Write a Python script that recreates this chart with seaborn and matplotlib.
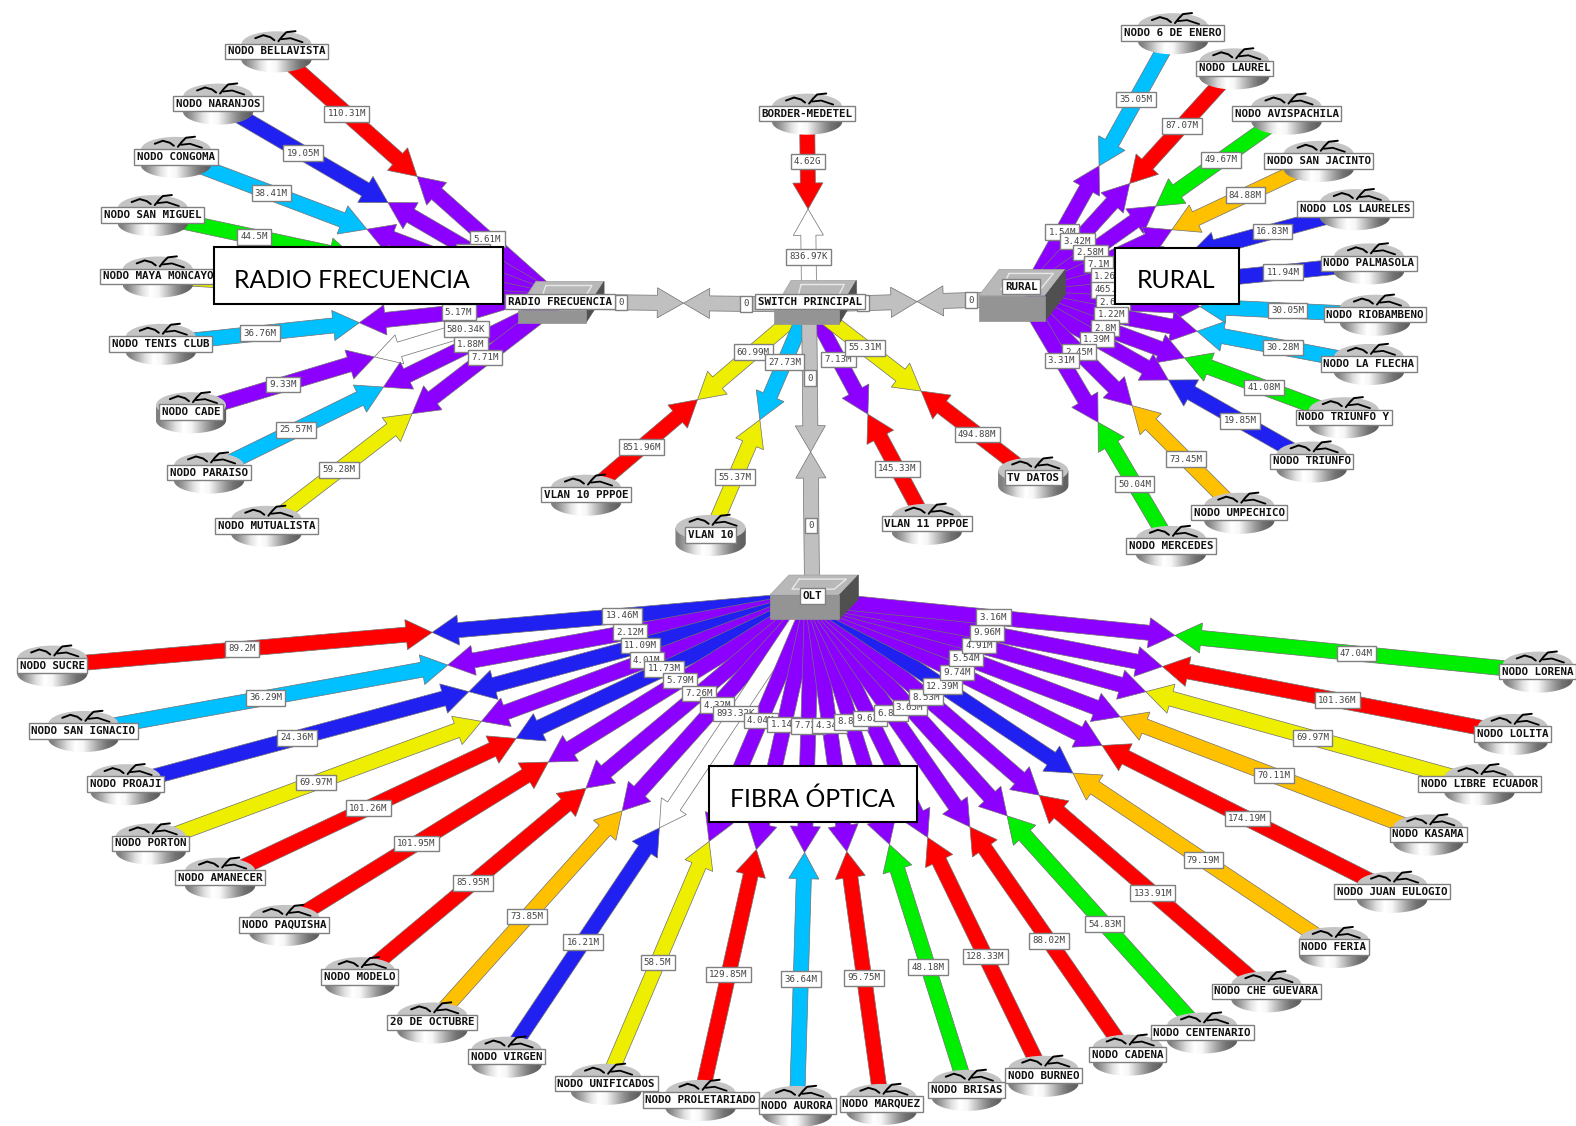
import numpy as np
import pandas as pd
import matplotlib
matplotlib.use("Agg")
import matplotlib.pyplot as plt
from matplotlib.patches import Polygon, PathPatch, Rectangle
from matplotlib.path import Path
from matplotlib.transforms import Affine2D
import seaborn as sns

sns.set_theme(style="white")

# Link load colours (weathermap scale)
colors = {
    "r": "#ff0000", "b": "#2020f0", "s": "#00c0ff", "g": "#00ee00", "o": "#ffc000",
    "y": "#eeee00", "p": "#8c00ff", "w": "#ffffff", "n": "#c0c0c0",
}

# Radio frecuencia group
radio_names = ["NODO BELLAVISTA", "NODO NARANJOS", "NODO CONGOMA", "NODO SAN MIGUEL", "NODO MAYA MONCAYO",
               "NODO TENIS CLUB", "NODO CADE", "NODO PARAISO", "NODO MUTUALISTA"]
radio_in = ["110.31M", "19.05M", "38.41M", "44.5M", "60.12M", "36.76M", "9.33M", "25.57M", "59.28M"]
radio_out = ["5.61M", "4.12M", "3.37M", "2.65M", "1.94M", "5.17M", "580.34K", "1.88M", "7.71M"]
radio_in_col = ["r", "b", "s", "g", "y", "s", "p", "s", "y"]
radio_out_col = ["p", "p", "p", "p", "p", "p", "w", "p", "p"]
radio_x = [275, 217, 175, 152, 157, 160, 190, 208, 265]
radio_y = [51, 103, 156, 214, 275, 342, 410, 470, 523]

# Rural group
rural_names = ["NODO 6 DE ENERO", "NODO LAUREL", "NODO AVISPACHILA", "NODO SAN JACINTO", "NODO LOS LAURELES",
               "NODO PALMASOLA", "NODO RIOBAMBENO", "NODO LA FLECHA", "NODO TRIUNFO Y", "NODO TRIUNFO",
               "NODO UMPECHICO", "NODO MERCEDES"]
rural_in = ["35.05M", "87.07M", "49.67M", "84.88M", "16.83M", "11.94M", "30.05M", "30.28M", "41.08M", "19.85M",
            "73.45M", "50.04M"]
rural_out = ["1.54M", "3.42M", "2.58M", "7.1M", "1.26M", "465.7K", "2.67M", "1.22M", "2.8M", "1.39M", "2.45M", "3.31M"]
rural_in_col = ["s", "r", "g", "o", "b", "b", "s", "s", "g", "b", "o", "g"]
rural_out_col = ["p"] * 12
rural_x = [1167, 1228, 1280, 1312, 1348, 1362, 1368, 1362, 1337, 1305, 1233, 1165]
rural_y = [33, 68, 113, 160, 208, 262, 313, 362, 415, 459, 510, 543]

# Core group
core_names = ["BORDER-MEDETEL", "VLAN 10 PPPOE", "VLAN 10", "VLAN 11 PPPOE", "TV DATOS"]
core_in = ["4.62G", "851.96M", "55.37M", "145.33M", "494.88M"]
core_out = ["836.97K", "60.99M", "27.73M", "7.13M", "55.31M"]
core_in_col = ["r", "r", "y", "r", "r"]
core_out_col = ["w", "y", "s", "p", "y"]
core_x = [803, 583, 707, 922, 1028]
core_y = [113, 492, 532, 521, 475]

# Fibra optica group
olt_names = ["NODO SUCRE", "NODO SAN IGNACIO", "NODO PROAJI", "NODO PORTON", "NODO AMANECER", "NODO PAQUISHA",
             "NODO MODELO", "20 DE OCTUBRE", "NODO VIRGEN", "NODO UNIFICADOS", "NODO PROLETARIADO", "NODO AURORA",
             "NODO MARQUEZ", "NODO BRISAS", "NODO BURNEO", "NODO CADENA", "NODO CENTENARIO", "NODO CHE GUEVARA",
             "NODO FERIA", "NODO JUAN EULOGIO", "NODO KASAMA", "NODO LIBRE ECUADOR", "NODO LOLITA", "NODO LORENA"]
olt_in = ["89.2M", "36.29M", "24.36M", "69.97M", "101.26M", "101.95M", "85.95M", "73.85M", "16.21M", "58.5M",
          "129.85M", "36.64M", "95.75M", "48.18M", "128.33M", "88.02M", "54.83M", "133.91M", "79.19M", "174.19M",
          "70.11M", "69.97M", "101.36M", "47.04M"]
olt_out = ["13.46M", "2.12M", "11.09M", "4.01M", "11.73M", "5.79M", "7.26M", "4.32M", "893.32K", "4.04M", "1.14M",
           "7.72M", "4.34M", "8.81M", "9.62M", "6.82M", "3.65M", "8.53M", "12.39M", "9.74M", "5.54M", "4.91M",
           "9.96M", "3.16M"]
olt_in_col = ["r", "s", "b", "y", "r", "r", "r", "o", "b", "y", "r", "s", "r", "g", "r", "r", "g", "r", "o", "r",
              "o", "y", "r", "g"]
olt_out_col = ["b", "p", "b", "p", "b", "p", "p", "p", "w", "p", "p", "p", "p", "p", "p", "p", "p", "p", "b", "p",
               "p", "p", "p", "p"]
olt_x = [52, 83, 125, 150, 219, 283, 358, 430, 504, 603, 697, 793, 877, 962, 1038, 1122, 1196, 1260, 1327, 1385,
         1421, 1472, 1505, 1530]
olt_y = [662, 727, 780, 839, 873, 920, 972, 1017, 1051, 1078, 1094, 1100, 1098, 1084, 1070, 1049, 1027, 986, 942,
         887, 830, 780, 730, 668]

# Arrow anchors of the switches
hub_radio = (555, 300)
hub_core = (805, 303)
hub_rural = (1020, 297)
hub_olt = (808, 596)

SHAFT = 15
HEAD_W = 30
HEAD_L = 26
ROUTER_W = 35


def half_arrow(ax, start, tip, col, lw=0.5):
    start, tip = np.array(start, float), np.array(tip, float)
    d = tip - start
    d = d / np.hypot(*d)
    n = np.array([-d[1], d[0]])
    neck = tip - d * HEAD_L
    pts = [start + n * SHAFT / 2, neck + n * SHAFT / 2, neck + n * HEAD_W / 2, tip,
           neck - n * HEAD_W / 2, neck - n * SHAFT / 2, start - n * SHAFT / 2]
    ax.add_patch(Polygon(pts, closed=True, fc=colors[col], ec="#707070", lw=lw, zorder=2))


def link_label(ax, x, y, txt):
    ax.text(x, y, txt, family="DejaVu Sans Mono", fontsize=6.6, color="#444444", ha="center", va="center", zorder=5,
            bbox=dict(boxstyle="square,pad=0.36", fc="white", ec="#808080", lw=1))


def link(ax, node, hub, col_in, col_out, lab_in, lab_out):
    mid = ((node[0] + hub[0]) / 2, (node[1] + hub[1]) / 2)
    half_arrow(ax, node, mid, col_in)
    half_arrow(ax, hub, mid, col_out)
    link_label(ax, (node[0] + mid[0]) / 2, (node[1] + mid[1]) / 2, lab_in)
    link_label(ax, (hub[0] + mid[0]) / 2, (hub[1] + mid[1]) / 2, lab_out)


def router_body(ax, cx, cy):
    w, top, bot = ROUTER_W, cy - 7, cy + 8
    t = np.linspace(0, np.pi, 40)
    xs = np.r_[cx - w, cx + w * np.cos(t[::-1]), cx + w]
    ys = np.r_[top, bot + 13 * np.sin(t[::-1]), top]
    clip = PathPatch(Path(np.c_[xs, ys]), fc="none", ec="none", transform=ax.transData)
    ax.add_patch(clip)
    grad = np.array([[0.5, 0.68, 0.88, 1, 0.96, 0.78, 0.6, 0.45, 0.38]])
    im = ax.imshow(grad, cmap="gray", vmin=0, vmax=1, extent=(cx - w, cx + w, bot + 15, top), aspect="auto",
                   interpolation="bilinear", zorder=3)
    im.set_clip_path(clip)


def router_marks(ax, cx, cy):
    ax.plot([cx - 21, cx - 13, cx - 6, cx - 2], [cy - 13, cy - 16, cy - 14, cy - 11], color="black", lw=1.4, zorder=4)
    ax.plot([cx + 2, cx + 6, cx + 10, cx + 19], [cy - 10, cy - 15, cy - 19, cy - 20], color="black", lw=1.4, zorder=4)
    ax.plot([cx + 5, cx + 14, cx + 26], [cy - 12, cy - 13, cy - 9], color="black", lw=1.3, zorder=4)


def switch(ax, x0, x1, y0, y1, dx, dy):
    ax.add_patch(Polygon([(x0, y0), (x1, y0), (x1 + dx, y0 - dy), (x0 + dx, y0 - dy)], fc="#b8b8b8", ec="#a0a0a0",
                         lw=0.5, zorder=3))
    ax.add_patch(Polygon([(x1, y0), (x1 + dx, y0 - dy), (x1 + dx, y1 - dy), (x1, y1)], fc="#505050", ec="#505050",
                         lw=0.5, zorder=3))
    ax.add_patch(Rectangle((x0, y0), x1 - x0, y1 - y0, fc="#949494", ec="#949494", lw=0.5, zorder=3))
    ax.plot([x0 + dx + 10, x1 + dx - 12, x1 - 5, x0 + 22, x0 + dx + 10],
            [y0 - dy + 4, y0 - dy + 4, y0 - 6, y0 - 6, y0 - dy + 4], color="#e8e8e8", lw=1, zorder=3)


def node_label(ax, x, y, txt):
    ax.text(x, y, txt, family="DejaVu Sans Mono", fontweight="bold", fontsize=7.8, color="#111111", ha="center",
            va="center", zorder=6, bbox=dict(boxstyle="square,pad=0.25", fc="white", ec="#808080", lw=1))


fig = plt.figure(figsize=(15.76, 11.26), dpi=100)
ax = fig.add_axes([0, 0, 1, 1])

groups = [
    (hub_radio, radio_names, radio_x, radio_y, radio_in, radio_out, radio_in_col, radio_out_col),
    (hub_rural, rural_names, rural_x, rural_y, rural_in, rural_out, rural_in_col, rural_out_col),
    (hub_core, core_names, core_x, core_y, core_in, core_out, core_in_col, core_out_col),
    (hub_olt, olt_names, olt_x, olt_y, olt_in, olt_out, olt_in_col, olt_out_col),
]

for hub, names, xs, ys, lab_in, lab_out, col_in, col_out in groups:
    for i in range(len(names)):
        link(ax, (xs[i], ys[i]), hub, col_in[i], col_out[i], lab_in[i], lab_out[i])

# Trunks between the switches carry no traffic
link(ax, hub_radio, hub_core, "n", "n", "0", "0")
link(ax, hub_rural, hub_core, "n", "n", "0", "0")
link(ax, hub_olt, hub_core, "n", "n", "0", "0")

nodes = pd.DataFrame({
    "name": radio_names + rural_names + core_names + olt_names,
    "x": radio_x + rural_x + core_x + olt_x,
    "y": radio_y + rural_y + core_y + olt_y,
})

for _, row in nodes.iterrows():
    router_body(ax, row["x"], row["y"])

# Router tops, marker width in points is sqrt(s)
top_marker = Path.unit_circle().transformed(Affine2D().scale(1, 0.37))
sns.scatterplot(data=nodes.assign(top=nodes["y"] - 7), x="x", y="top", marker=top_marker, s=2540, color="#c4c4c4",
                edgecolor="none", legend=False, ax=ax, zorder=3.5)

for _, row in nodes.iterrows():
    router_marks(ax, row["x"], row["y"])
    node_label(ax, row["x"], row["y"], row["name"])

switch(ax, 515, 583, 308, 321, 18, 28)
node_label(ax, 557, 300, "RADIO FRECUENCIA")
switch(ax, 770, 835, 308, 322, 17, 29)
node_label(ax, 806, 300, "SWITCH PRINCIPAL")
switch(ax, 974, 1040, 294, 319, 20, 26)
node_label(ax, 1016, 285, "RURAL")
switch(ax, 766, 835, 592, 616, 19, 20)
node_label(ax, 808, 593, "OLT")

# Text boxes pasted over the map
for x0, y0, x1, y1, tx, txt in [(213, 246, 500, 302, 350, "RADIO FRECUENCIA"), (1109, 247, 1233, 302, 1170, "RURAL"),
                                (705, 762, 912, 818, 808, "FIBRA ÓPTICA")]:
    ax.add_patch(Rectangle((x0, y0), x1 - x0, y1 - y0, fc="white", ec="black", lw=1.5, zorder=8))
    ax.text(tx, (y0 + y1) / 2 + 5, txt, family="Lato", fontsize=17.8, color="black", ha="center", va="center",
            zorder=9)

ax.set_xlim(0, 1568)
ax.set_ylim(1120, 0)
ax.set_aspect("auto")
ax.axis("off")

fig.savefig("out.png", dpi=100, facecolor="white")
